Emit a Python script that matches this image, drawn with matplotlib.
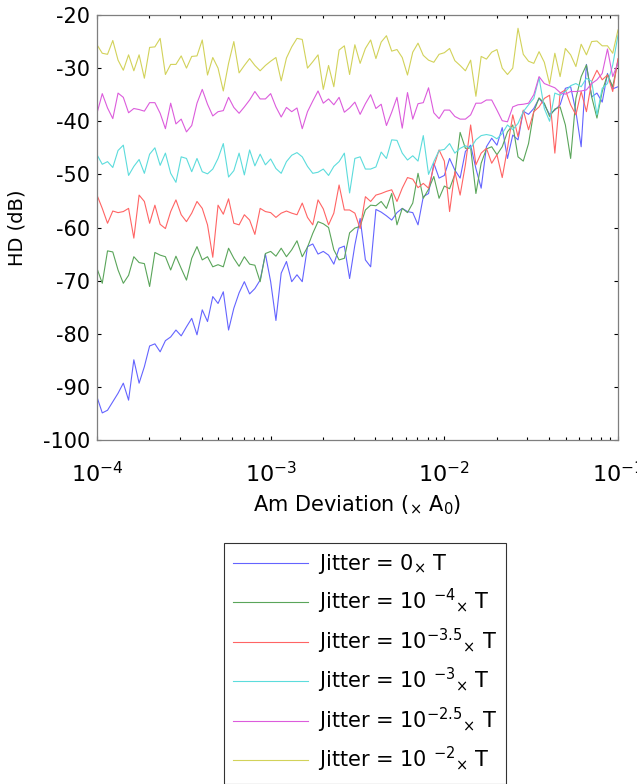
import numpy as np
import matplotlib
matplotlib.use('Agg')
import matplotlib.pyplot as plt

# Dane (HD w dB)
am_dev = np.logspace(-4, -1, 100)

hd_j0 = [-91.9, -94.9, -94.4, -92.8, -91.2, -89.3, -92.5, -84.9, -89.3, -86.2,
         -82.3, -81.9, -83.4, -81.3, -80.6, -79.3, -80.4, -78.7, -77.1, -80.2,
         -75.5, -77.7, -73.0, -74.3, -72.1, -79.3, -75.2, -72.3, -70.2, -72.5,
         -71.5, -69.9, -65.0, -70.2, -77.5, -68.6, -66.4, -70.2, -68.9, -70.2,
         -63.6, -63.1, -65.0, -64.5, -65.2, -66.9, -63.9, -63.5, -69.6, -63.3,
         -58.3, -66.1, -67.4, -56.6, -57.1, -57.8, -58.6, -57.2, -56.4, -57.0,
         -57.2, -59.5, -54.2, -53.6, -47.9, -50.7, -50.2, -47.0, -49.2, -50.7,
         -45.7, -44.5, -48.9, -52.6, -44.8, -43.2, -44.5, -41.2, -47.0, -42.6,
         -43.5, -38.1, -38.7, -37.6, -35.7, -36.9, -38.7, -37.9, -36.9, -33.8,
         -33.5, -38.2, -44.8, -29.3, -35.4, -34.7, -36.4, -31.0, -33.9, -33.5]

hd_j4 = [-67.7, -70.5, -64.4, -64.6, -68.0, -70.5, -69.0, -65.5, -66.6, -66.8,
         -71.1, -64.7, -65.2, -65.5, -68.0, -65.4, -67.7, -69.9, -65.8, -63.6,
         -66.1, -65.5, -67.4, -67.0, -67.4, -63.9, -65.8, -67.3, -65.5, -66.9,
         -67.1, -70.2, -64.9, -64.5, -65.4, -63.9, -65.5, -64.2, -62.5, -65.5,
         -63.7, -61.1, -58.9, -59.3, -60.0, -64.2, -66.1, -65.8, -61.0, -60.1,
         -59.8, -56.7, -55.8, -55.9, -55.1, -56.4, -53.6, -59.5, -56.4, -57.2,
         -55.4, -49.8, -54.5, -52.8, -50.4, -54.5, -52.2, -52.7, -50.0, -42.1,
         -45.1, -45.0, -53.6, -47.9, -45.2, -44.8, -46.3, -44.8, -42.0, -40.7,
         -46.7, -47.5, -44.2, -38.2, -35.6, -36.6, -39.1, -37.7, -37.3, -40.7,
         -47.0, -35.7, -31.6, -29.4, -35.4, -39.4, -34.4, -31.2, -33.5, -28.5]

hd_j35 = [-53.9, -56.4, -59.2, -56.9, -57.2, -57.0, -56.4, -62.0, -53.9, -55.1,
          -59.2, -55.8, -59.4, -60.2, -57.0, -54.8, -57.6, -58.9, -57.3, -55.1,
          -56.4, -59.5, -65.6, -55.8, -57.5, -54.6, -59.2, -59.5, -57.6, -58.6,
          -61.3, -56.4, -57.0, -57.2, -58.1, -57.3, -56.9, -57.3, -57.6, -55.4,
          -58.1, -59.5, -54.8, -56.5, -59.5, -57.3, -52.0, -56.7, -56.7, -57.3,
          -60.2, -54.2, -55.1, -53.9, -53.6, -53.2, -52.9, -55.1, -52.6, -50.6,
          -50.9, -52.5, -51.7, -52.6, -48.5, -45.4, -47.5, -57.0, -49.5, -53.9,
          -48.2, -40.7, -48.2, -46.0, -45.1, -47.9, -46.3, -50.6, -45.1, -38.8,
          -42.9, -37.9, -41.6, -38.2, -37.3, -35.7, -35.1, -46.0, -34.7, -34.1,
          -36.9, -38.8, -34.4, -38.2, -32.5, -30.4, -32.2, -31.3, -34.4, -28.2]

hd_j3 = [-46.3, -48.1, -47.6, -48.7, -45.5, -44.5, -50.2, -48.5, -47.2, -49.8,
         -46.2, -45.0, -48.3, -46.0, -49.8, -51.5, -46.7, -47.0, -49.5, -47.0,
         -49.5, -49.9, -49.0, -47.0, -44.2, -50.5, -49.3, -46.0, -50.1, -45.4,
         -48.4, -46.2, -48.2, -47.1, -48.9, -49.8, -47.6, -46.4, -45.9, -46.7,
         -48.5, -49.8, -49.6, -49.0, -50.2, -48.5, -47.6, -46.0, -53.5, -47.0,
         -46.7, -49.0, -49.0, -48.6, -45.8, -47.0, -43.5, -43.6, -46.0, -47.3,
         -46.5, -47.5, -42.7, -50.0, -47.6, -45.5, -45.3, -44.2, -46.0, -45.1,
         -44.6, -45.1, -43.5, -42.7, -42.5, -42.7, -43.3, -42.3, -40.7, -41.6,
         -40.4, -38.2, -36.9, -35.7, -31.8, -37.6, -40.0, -34.7, -35.1, -34.4,
         -33.3, -32.9, -33.5, -31.9, -32.5, -38.8, -33.8, -32.9, -29.4, -23.8]

hd_j25 = [-38.5, -34.8, -37.5, -39.5, -34.7, -35.5, -38.4, -37.6, -37.8, -38.1,
          -36.5, -36.5, -38.5, -41.4, -36.6, -40.5, -39.6, -42.0, -40.8, -36.6,
          -34.0, -36.8, -39.0, -38.2, -38.0, -35.5, -37.4, -38.5, -37.3, -36.0,
          -34.4, -35.8, -35.8, -34.8, -37.3, -39.2, -37.4, -38.2, -37.5, -41.4,
          -38.2, -36.2, -34.3, -36.6, -35.8, -36.9, -35.5, -38.3, -37.5, -36.4,
          -38.7, -36.7, -35.0, -37.6, -36.8, -40.8, -38.3, -35.5, -41.3, -34.6,
          -39.6, -36.7, -36.5, -33.7, -38.4, -39.5, -37.9, -37.9, -39.1, -39.6,
          -39.6, -38.8, -36.6, -36.6, -36.0, -36.0, -37.9, -39.9, -40.1, -37.3,
          -36.9, -36.8, -36.6, -35.0, -31.6, -32.9, -33.3, -33.7, -34.6, -34.9,
          -34.4, -34.4, -34.3, -34.1, -32.9, -32.2, -31.0, -26.4, -31.6, -29.0]

hd_j2 = [-25.6, -27.2, -27.4, -24.8, -28.5, -30.4, -27.5, -30.5, -27.5, -31.9,
         -26.1, -26.0, -24.4, -31.2, -29.3, -29.3, -27.7, -30.0, -27.8, -27.7,
         -24.7, -31.3, -28.0, -30.0, -34.3, -29.1, -25.0, -30.9, -29.5, -28.2,
         -29.5, -30.5, -29.5, -28.7, -28.0, -32.4, -28.1, -26.0, -24.4, -24.6,
         -30.0, -28.8, -27.5, -34.0, -29.5, -33.5, -26.6, -25.8, -31.2, -25.6,
         -29.1, -26.3, -24.7, -28.2, -25.1, -23.9, -26.8, -26.5, -28.0, -31.3,
         -27.0, -25.3, -27.6, -28.5, -28.9, -27.4, -27.1, -26.3, -28.6, -29.5,
         -30.5, -28.5, -35.3, -27.8, -28.3, -27.0, -26.5, -30.0, -31.2, -30.0,
         -22.5, -27.4, -28.7, -29.1, -26.9, -28.9, -33.0, -27.2, -31.6, -26.3,
         -27.5, -29.7, -25.5, -27.5, -25.0, -24.9, -25.8, -25.8, -27.2, -22.8]

labels = [r'Jitter = 0${}_{\times}$ T',
          r'Jitter = 10 ${}^{-4}{}_{\times}$ T',
          r'Jitter = 10${}^{-3.5}{}_{\times}$ T',
          r'Jitter = 10 ${}^{-3}{}_{\times}$ T',
          r'Jitter = 10${}^{-2.5}{}_{\times}$ T',
          r'Jitter = 10 ${}^{-2}{}_{\times}$ T']
colors = ['#6464ff', '#5aa55a', '#ff6464', '#5cdcdc', '#dc5cdc', '#d2d25a']

plt.rcParams['font.family'] = ['DejaVu Sans']
plt.rcParams['mathtext.fontset'] = 'dejavusans'
plt.rcParams['mathtext.default'] = 'regular'
plt.rcParams['axes.unicode_minus'] = False

fig = plt.figure(figsize=(6.37, 7.84), dpi=100)
ax = fig.add_axes([97 / 637, 1 - 440 / 784, 521 / 637, 425 / 784])

series = [hd_j0, hd_j4, hd_j35, hd_j3, hd_j25, hd_j2]
for y, c, lab in zip(series, colors, labels):
    ax.plot(am_dev, y, color=c, lw=0.8, label=lab)

ax.set_xscale('log')
ax.set_xlim(1e-4, 1e-1)
ax.set_ylim(-100, -20)
ax.set_yticks(np.arange(-100, -19, 10))
ax.tick_params(which='both', direction='in', top=True, right=True, colors='k')
ax.tick_params(which='major', length=3, width=0.8)
ax.tick_params(which='minor', length=2, width=0.8)
ax.tick_params(axis='x', pad=15, labelsize=16)
ax.tick_params(axis='y', pad=5, labelsize=15)
for s in ax.spines.values():
    s.set_color('#7f7f7f')
    s.set_linewidth(0.9)

ax.set_xlabel(r'Am Deviation (${}_{\times}$ A$_0$)', fontsize=15, labelpad=5)
ax.set_ylabel('HD (dB)', fontsize=14)
ax.yaxis.set_label_coords(-0.135, 0.5)

leg = fig.legend(loc='upper left', bbox_to_anchor=(224 / 637, 1 - 543 / 784),
                 bbox_transform=fig.transFigure, borderaxespad=0,
                 fancybox=False, edgecolor='k', fontsize=15,
                 handlelength=3.6, labelspacing=0.5, borderpad=0.45,
                 handletextpad=0.45)
leg.get_frame().set_linewidth(0.8)

plt.savefig('out.png', dpi=100)
